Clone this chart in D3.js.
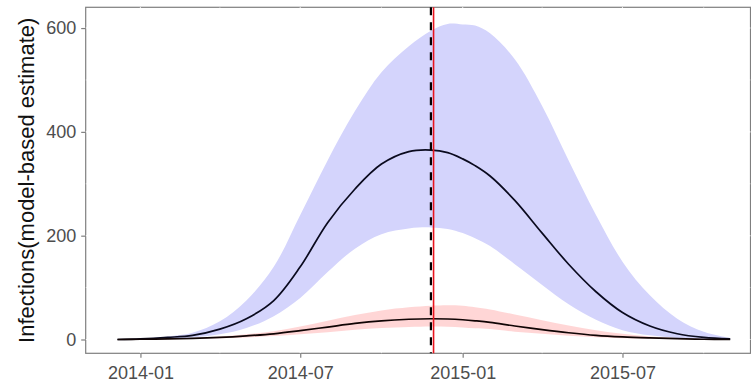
<!DOCTYPE html>
<html><head><meta charset="utf-8">
<script src="https://cdn.jsdelivr.net/npm/d3@7"></script>
<style>body{margin:0;background:#fff}svg{display:block}text{font-family:"Liberation Sans",Arial,sans-serif}</style>
</head><body><svg id="c" width="751" height="385"></svg>
<script>
const dates = ["2013-12-06","2014-01-01","2014-02-01","2014-03-01","2014-04-01","2014-05-01","2014-06-01","2014-07-01","2014-08-01","2014-09-01","2014-10-01","2014-11-01","2014-11-26","2014-12-15","2015-01-01","2015-01-15","2015-02-01","2015-03-01","2015-04-01","2015-05-01","2015-06-01","2015-07-01","2015-08-01","2015-09-01","2015-10-01","2015-10-31"];
const blueMean  = [0,1,4,8,20,40,75,140,225,290,338,362,365,360,348,335,315,268,205,145,92,52,26,11,4,1];
const blueUpper = [0,2,6,13,35,75,140,240,345,440,515,565,595,608,607,605,590,540,450,345,240,150,85,40,15,3];
const blueLower = [0,0.5,2,4,10,22,45,80,130,175,203,214,216,213,205,195,180,145,105,68,38,18,8,3,1,0];
const redMean   = [0,0.5,1,2,4,7,11,17,24,31,36,39,40,39.5,38,36,33,26,19,13,8,5,3,1.5,0.5,0];
const redUpper  = [0,0.7,1.5,3,6,10,16,25,36,47,56,62,65,66,65,62,58,48,37,27,18,11,6,3,1,0];
const redLower  = [0,0.3,0.6,1.2,2.3,4,6.5,10,14,19,22,24,25,24.5,23,21.5,20,15,11,7,4.5,2.5,1.5,0.7,0.2,0];
const peakDate = "2014-11-26";
const refDate = "2014-11-29";
const xTickLabels = ["2014-01","2014-07","2015-01","2015-07"];
const xMinorTicks = ["2014-04","2014-10","2015-04","2015-10"];
const yTicks = [0,200,400,600];
const yMinor = [100,300,500];
const yTitle = "Infections(model-based estimate)";

const parse = d3.timeParse("%Y-%m-%d");
const parseM = d3.timeParse("%Y-%m");
const svg = d3.select("#c");
const L = 85.7, R = 750.5, T = 7.3, B = 353.3;
const x = d3.scaleTime().domain([parse("2013-10-31"), parse("2015-11-23")]).range([L, R]);
const y = d3.scaleLinear().domain([-26.6, 640]).range([B, T]);

const rows = dates.map((d,i)=>({d:parse(d), bm:blueMean[i], bu:blueUpper[i], bl:blueLower[i], rm:redMean[i], ru:redUpper[i], rl:redLower[i]}));

// panel background + border
svg.append("rect").attr("x",L).attr("y",T).attr("width",R-L).attr("height",B-T)
  .attr("fill","#fff").attr("stroke","#7f7f7f").attr("stroke-width",1.2);
// white grid
const g = svg.append("g");
xMinorTicks.forEach(t=>g.append("line").attr("x1",x(parseM(t))).attr("x2",x(parseM(t))).attr("y1",T).attr("y2",B).attr("stroke","#fff").attr("stroke-width",0.6));
xTickLabels.forEach(t=>g.append("line").attr("x1",x(parseM(t))).attr("x2",x(parseM(t))).attr("y1",T).attr("y2",B).attr("stroke","#fff").attr("stroke-width",1.1));
yMinor.forEach(t=>g.append("line").attr("y1",y(t)).attr("y2",y(t)).attr("x1",L).attr("x2",R).attr("stroke","#fff").attr("stroke-width",0.6));
yTicks.forEach(t=>g.append("line").attr("y1",y(t)).attr("y2",y(t)).attr("x1",L).attr("x2",R).attr("stroke","#fff").attr("stroke-width",1.1));

const curve = d3.curveCatmullRom.alpha(0.5);
const area = (lo,hi)=>d3.area().x(r=>x(r.d)).y0(r=>y(r[lo])).y1(r=>y(r[hi])).curve(curve);
svg.append("path").datum(rows).attr("d",area("bl","bu")).attr("fill","rgb(212,212,252)");
svg.append("path").datum(rows).attr("d",area("rl","ru")).attr("fill","rgba(255,180,180,0.55)");
const line = k=>d3.line().x(r=>x(r.d)).y(r=>y(r[k])).curve(curve);
svg.append("path").datum(rows).attr("d",line("bm")).attr("fill","none").attr("stroke","#0a0a1e").attr("stroke-width",1.7);
svg.append("path").datum(rows).attr("d",line("rm")).attr("fill","none").attr("stroke","#100404").attr("stroke-width",1.7);

// vertical lines
svg.append("line").attr("x1",x(parse(peakDate))).attr("x2",x(parse(peakDate))).attr("y1",T).attr("y2",B)
  .attr("stroke","#000").attr("stroke-width",2.2).attr("stroke-dasharray","8,7");
svg.append("line").attr("x1",x(parse(refDate))).attr("x2",x(parse(refDate))).attr("y1",T).attr("y2",B)
  .attr("stroke","#e8141e").attr("stroke-width",1.6);

// axes
const xAxis = d3.axisBottom(x).tickValues(xTickLabels.map(t=>parseM(t))).tickFormat(d3.timeFormat("%Y-%m")).tickSize(4.5).tickPadding(8.5);
const xa = svg.append("g").attr("transform",`translate(0,${B})`).call(xAxis);
xa.select(".domain").remove();
xa.selectAll("line").attr("stroke","#7f7f7f").attr("stroke-width",1.2);
xa.selectAll("text").attr("fill","#4d4d4d").style("font-size","18px");
const yAxis = d3.axisLeft(y).tickValues(yTicks).tickSize(4.5).tickPadding(5);
const ya = svg.append("g").attr("transform",`translate(${L},0)`).call(yAxis);
ya.select(".domain").remove();
ya.selectAll("line").attr("stroke","#7f7f7f").attr("stroke-width",1.2);
ya.selectAll("text").attr("fill","#4d4d4d").style("font-size","18px");

svg.append("text").attr("transform",`translate(34,${(T+B)/2}) rotate(-90)`).attr("text-anchor","middle")
  .attr("fill","#111").style("font-size","22px").text(yTitle);
</script></body></html>
